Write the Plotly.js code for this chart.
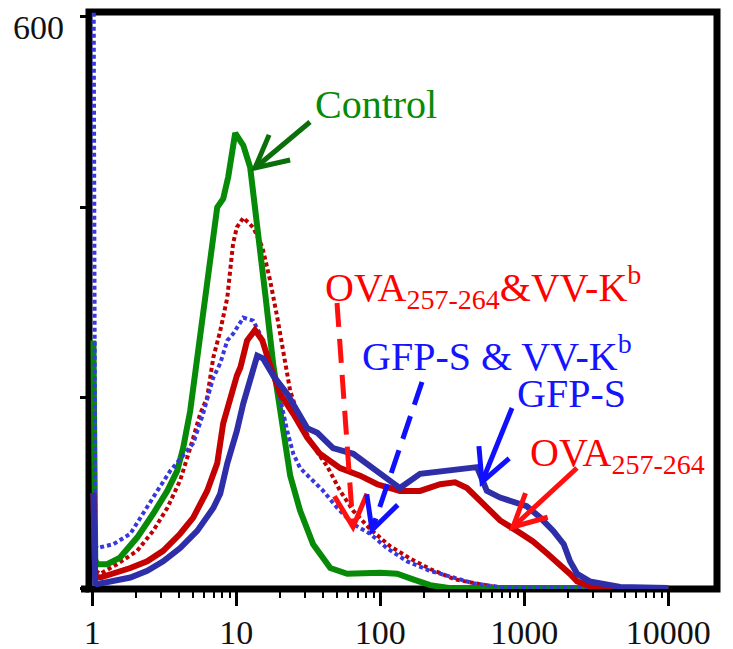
<!DOCTYPE html>
<html><head><meta charset="utf-8">
<script src="https://cdn.plot.ly/plotly-3.0.1.min.js"></script>
<style>html,body{margin:0;padding:0;background:#fff;} #chart{width:733px;height:649px;}</style>
</head><body><div id="chart"></div>
<script>
// ---- Data ----
const controlX = [1.02, 1.05, 1.08, 1.27, 1.56, 2.05, 2.65, 3.32, 3.89, 4.28, 4.79, 5.19, 5.9, 6.4, 7.38, 8.12, 8.8, 9.84, 10.7, 11.2, 12.5, 14.0, 15.9, 18.1, 19.6, 20.9, 22.2, 23.7, 27.8, 34.2, 45, 59, 100, 131, 169, 222, 300, 1000, 10000];
const controlY = [260, 30, 25, 25, 32, 53, 78, 102, 123, 147, 186, 228, 288, 331, 400, 409, 432, 478, 471, 465, 442, 383, 309, 234, 200, 181, 155, 118, 81, 46, 21, 15, 16, 15, 9, 3, 0, 0, 0];

const ovaVvX = [1.02, 1.05, 1.14, 1.49, 2.05, 2.65, 3.32, 4.08, 4.79, 5.62, 6.28, 6.93, 7.74, 8.67, 9.51, 10.1, 11.2, 13.1, 15.2, 17.2, 19.3, 21.2, 23.7, 27.8, 34.2, 42.8, 52.7, 65, 85, 117, 161, 222, 331, 494, 700, 10000];
const ovaVvY = [150, 18, 15, 25, 39, 60, 84, 113, 147, 183, 200, 242, 270, 305, 362, 379, 389, 379, 358, 323, 284, 246, 207, 176, 149, 128, 102, 81, 62, 44, 31, 20, 9, 4, 0, 0];

const gfpVvX = [1.02, 1.05, 1.08, 1.40, 1.84, 2.41, 2.83, 3.48, 4.57, 5.03, 5.89, 6.93, 7.74, 8.67, 9.51, 11.2, 13.1, 14.6, 16.4, 18.1, 20.2, 22.6, 24.9, 27.8, 34.2, 40.2, 50.4, 65, 85, 111, 154, 222, 323, 443, 680, 1000, 10000];
const gfpVvY = [700, 45, 42, 46, 57, 84, 102, 123, 144, 152, 183, 221, 236, 260, 267, 284, 281, 267, 246, 225, 199, 165, 141, 126, 113, 102, 84, 67, 57, 42, 28, 18, 11, 5, 1, 0, 0];

const ovaX = [1.02, 1.05, 1.14, 1.40, 1.84, 2.41, 3.11, 4.08, 5.03, 6.28, 7.38, 8.12, 9.09, 10.1, 10.7, 11.9, 13.5, 15.2, 17.2, 20.2, 24.9, 31.1, 38.1, 52.7, 72.5, 95.3, 137, 189, 261, 331, 401, 520, 680, 889, 1150, 1450, 1780, 2070, 2330, 2850, 3950, 10000];
const ovaY = [100, 12, 11, 15, 21, 28, 39, 57, 74, 102, 131, 173, 200, 223, 232, 260, 271, 260, 234, 204, 183, 158, 141, 126, 118, 109, 102, 102, 109, 111, 105, 88, 71, 60, 49, 36, 25, 15, 7, 2, 0, 0];

const gfpX = [1.02, 1.05, 1.08, 1.40, 1.84, 2.41, 3.11, 4.08, 5.36, 6.93, 7.74, 8.67, 10.1, 11.2, 12.5, 14.0, 15.4, 18.1, 22.6, 27.8, 31.1, 36.6, 47, 65, 85, 105, 137, 189, 261, 360, 470, 550, 680, 1040, 1290, 1590, 1880, 2080, 2330, 2850, 3500, 4640, 10000];
const gfpY = [100, 5, 4, 7, 11, 18, 28, 42, 60, 84, 99, 131, 165, 194, 218, 244, 241, 223, 204, 181, 168, 163, 147, 141, 128, 116, 105, 120, 123, 126, 127, 102, 95, 86, 74, 60, 46, 28, 15, 7, 4, 1, 0];

const xTickValues = [1, 10, 100, 1000, 10000];
const xTickLabels = ['1', '10', '100', '1000', '10000'];
const xMinorDigits = [2, 3, 4, 5, 6, 7, 8, 9];
const yTickValues = [0, 200, 400, 600];
const yTopLabel = '600';

// ---- Layout helpers ----
const W = 733, H = 649, M = {l: 89, r: 16, t: 12, b: 60};
const PW = W - M.l - M.r, PH = H - M.t - M.b;
const px = x => (x - M.l) / PW;
const py = y => (H - M.b - y) / PH;
const SERIF = '"Liberation Serif", "Times New Roman", serif';

const minorVals = [];
[1, 10, 100, 1000].forEach(d => xMinorDigits.forEach(k => minorVals.push(d * k)));

function arrow(tail, tip, color, dash) {
  const [x0, y0] = tail, [x1, y1] = tip;
  const ang = Math.atan2(y0 - y1, x0 - x1);
  const L = 36, a = 27 * Math.PI / 180;
  const ax1 = x1 + L * Math.cos(ang + a), ay1 = y1 + L * Math.sin(ang + a);
  const ax2 = x1 + L * Math.cos(ang - a), ay2 = y1 + L * Math.sin(ang - a);
  return [
    {type: 'line', xref: 'paper', yref: 'paper', layer: 'above',
     x0: px(x0), y0: py(y0), x1: px(x1), y1: py(y1), line: {color, width: 5, dash: dash || 'solid'}},
    {type: 'path', xref: 'paper', yref: 'paper', layer: 'above',
     path: `M ${px(ax1)} ${py(ay1)} L ${px(x1)} ${py(y1)} L ${px(ax2)} ${py(ay2)}`,
     line: {color, width: 5}}
  ];
}

const traces = [
  {x: ovaVvX, y: ovaVvY, mode: 'lines', line: {color: '#c00000', width: 4, dash: '4px,3px'}, name: 'OVA & VV-Kb'},
  {x: controlX, y: controlY, mode: 'lines', line: {color: '#078a07', width: 6}, name: 'Control'},
  {x: gfpVvX, y: gfpVvY, mode: 'lines', line: {color: '#3838dd', width: 4, dash: '4px,3px'}, name: 'GFP-S & VV-Kb'},
  {x: ovaX, y: ovaY, mode: 'lines', line: {color: '#c40000', width: 6}, name: 'OVA'},
  {x: gfpX, y: gfpY, mode: 'lines', line: {color: '#2e2ea8', width: 6}, name: 'GFP-S'}
];

const shapes = [
  {type: 'rect', xref: 'paper', yref: 'paper', x0: 0, x1: 1, y0: 0, y1: 1, layer: 'below', line: {color: '#000', width: 7}},
  {type: 'line', xref: 'paper', yref: 'paper', x0: px(81), x1: 0, y0: 0, y1: 0, layer: 'below', line: {color: '#000', width: 7}},
  ...arrow([310, 122], [255, 168], '#0a6e0a'),
  ...arrow([337, 303], [353, 527], '#ff1010', '24px,12px'),
  ...arrow([422, 382], [372, 530], '#1010ff', '24px,12px'),
  ...arrow([512, 408], [482, 482], '#1010ff'),
  ...arrow([577, 468], [513, 527], '#ff1010')
];

const annFont = (c) => ({family: SERIF, size: 40, color: c});
const annotations = [
  {xref: 'paper', yref: 'paper', x: px(313), y: py(105), xanchor: 'left', yanchor: 'middle', showarrow: false, text: 'Control', font: annFont('#078a07')},
  {xref: 'paper', yref: 'paper', x: px(323), y: py(287), xanchor: 'left', yanchor: 'middle', showarrow: false, text: 'OVA<sub>257-264</sub>&VV-K<sup>b</sup>', font: annFont('#ff0000')},
  {xref: 'paper', yref: 'paper', x: px(360), y: py(353), xanchor: 'left', yanchor: 'middle', showarrow: false, text: 'GFP-S &amp; VV-K<sup>b</sup>', font: annFont('#1414ff')},
  {xref: 'paper', yref: 'paper', x: px(515), y: py(393), xanchor: 'left', yanchor: 'middle', showarrow: false, text: 'GFP-S', font: annFont('#1414ff')},
  {xref: 'paper', yref: 'paper', x: px(528), y: py(455), xanchor: 'left', yanchor: 'middle', showarrow: false, text: 'OVA<sub>257-264</sub>', font: annFont('#ff0000')},
  {xref: 'paper', yref: 'paper', x: px(66), y: py(27), xanchor: 'right', yanchor: 'middle', showarrow: false, text: yTopLabel, font: {family: SERIF, size: 34, color: '#111'}}
];

const layout = {
  width: W, height: H, margin: M,
  paper_bgcolor: '#fff', plot_bgcolor: '#fff',
  showlegend: false,
  xaxis: {
    type: 'log', range: [Math.log10(0.95), Math.log10(21800)],
    showgrid: false, zeroline: false, showline: false,
    tickmode: 'array', tickvals: xTickValues, ticktext: xTickLabels,
    ticks: 'outside', ticklen: 16, tickwidth: 3, tickcolor: '#000',
    ticklabelstandoff: -3,
    tickfont: {family: SERIF, size: 34, color: '#111'},
    minor: {tickmode: 'array', tickvals: minorVals, ticks: 'outside', ticklen: 8, tickwidth: 2, tickcolor: '#000'}
  },
  yaxis: {
    range: [-1.05, 605.2],
    showgrid: false, zeroline: false, showline: false,
    tickmode: 'array', tickvals: yTickValues, showticklabels: false,
    ticks: 'outside', ticklen: 8, tickwidth: 3, tickcolor: '#000'
  },
  shapes, annotations
};

Plotly.newPlot('chart', traces, layout, {displayModeBar: false, staticPlot: true});
</script>
</body></html>
